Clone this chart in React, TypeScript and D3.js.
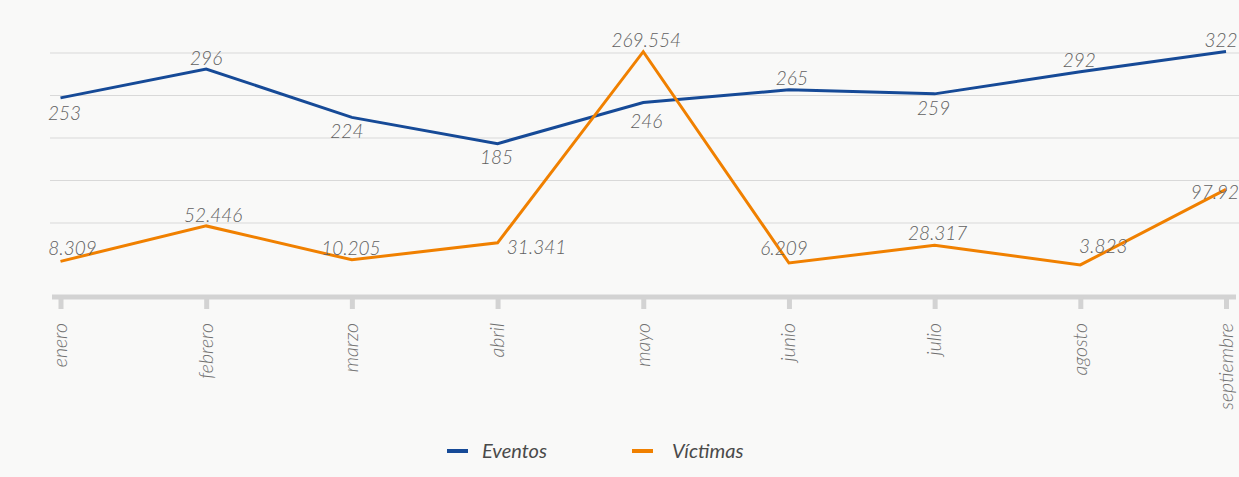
import React from "react";
import * as d3 from "d3";

const months = ["enero", "febrero", "marzo", "abril", "mayo", "junio", "julio", "agosto", "septiembre"];
const eventos = [253, 296, 224, 185, 246, 265, 259, 292, 322];
const victimas = [8309, 52446, 10205, 31341, 269554, 6209, 28317, 3823, 97926];

// label nudges [dx, dy] relative to each point (baseline)
const eventosLabelOffset: [number, number][] = [
  [4, 22], [0, -4], [-5, 21], [-1, 20], [3, 25], [3, -5], [-1, 21], [-1, -5], [-5, -5],
];
const victimasLabelOffset: [number, number][] = [
  [12, -6], [7, -4], [-1, -5], [39, 11], [3, -5], [-5, -8], [3, -5], [23, -12], [-6, 10],
];

const width = 1239;
const height = 477;
const BLUE = "#164a97";
const ORANGE = "#f08000";

const fmt = (v: number) => d3.format(",")(v).replace(/,/g, ".");

function App() {
  const x = d3.scalePoint<string>().domain(months).range([60.5, 1226]);
  const yEventos = d3.scaleLinear().domain([0, d3.max(eventos)!]).range([268, 51.5]);
  const yVictimas = d3.scaleLinear().domain([0, d3.max(victimas)!]).range([268, 51.7]);
  const grid = d3.scaleLinear().domain([0, 5]).range([265.5, 53]);

  const line = (ys: d3.ScaleLinear<number, number>) =>
    d3
      .line<number>()
      .x((_, i) => x(months[i])!)
      .y(d => ys(d));

  const labelStyle: React.CSSProperties = {
    fontFamily: "Lato, 'Open Sans', sans-serif",
    fontStyle: "italic",
    fontWeight: 300,
    fontSize: 19,
    fill: "#616161",
  };

  return (
    <svg
      width={width}
      height={height}
      style={{ position: "absolute", left: 0, top: 0, background: "#f9f9f8" }}
    >
      <rect width={width} height={height} fill="#f9f9f8" />
      {d3.range(1, 6).map(k => (
        <line key={k} x1={50} x2={width} y1={grid(k)} y2={grid(k)} stroke="#d9d9d9" strokeWidth={1} />
      ))}

      <line x1={52} x2={1236} y1={297} y2={297} stroke="#d3d3d3" strokeWidth={5} />
      {months.map(m => (
        <g key={m} transform={`translate(${x(m)! + 0.5},0)`}>
          <line y1={297} y2={309} stroke="#d3d3d3" strokeWidth={5} />
          <text
            transform="translate(6,323) rotate(-90)"
            textAnchor="end"
            style={{ ...labelStyle, fontSize: 19.5, fill: "#707070" }}
          >
            {m}
          </text>
        </g>
      ))}

      <path d={line(yEventos)(eventos)!} fill="none" stroke={BLUE} strokeWidth={3} />
      <path d={line(yVictimas)(victimas)!} fill="none" stroke={ORANGE} strokeWidth={3} />

      {eventos.map((v, i) => (
        <text
          key={"e" + i}
          x={x(months[i])! + eventosLabelOffset[i][0]}
          y={yEventos(v) + eventosLabelOffset[i][1]}
          textAnchor="middle"
          style={labelStyle}
        >
          {fmt(v)}
        </text>
      ))}
      {victimas.map((v, i) => (
        <text
          key={"v" + i}
          x={x(months[i])! + victimasLabelOffset[i][0]}
          y={yVictimas(v) + victimasLabelOffset[i][1]}
          textAnchor="middle"
          style={labelStyle}
        >
          {fmt(v)}
        </text>
      ))}

      <g transform="translate(447,451)">
        <line x1={0} x2={21} stroke={BLUE} strokeWidth={4} />
        <text x={35} y={7} style={{ ...labelStyle, fontWeight: 400, fontSize: 20, fill: "#4a4a4a" }}>
          Eventos
        </text>
      </g>
      <g transform="translate(632,451)">
        <line x1={0} x2={21} stroke={ORANGE} strokeWidth={4} />
        <text x={40} y={7} style={{ ...labelStyle, fontWeight: 400, fontSize: 20, fill: "#4a4a4a" }}>
          Víctimas
        </text>
      </g>
    </svg>
  );
}

export default App;
